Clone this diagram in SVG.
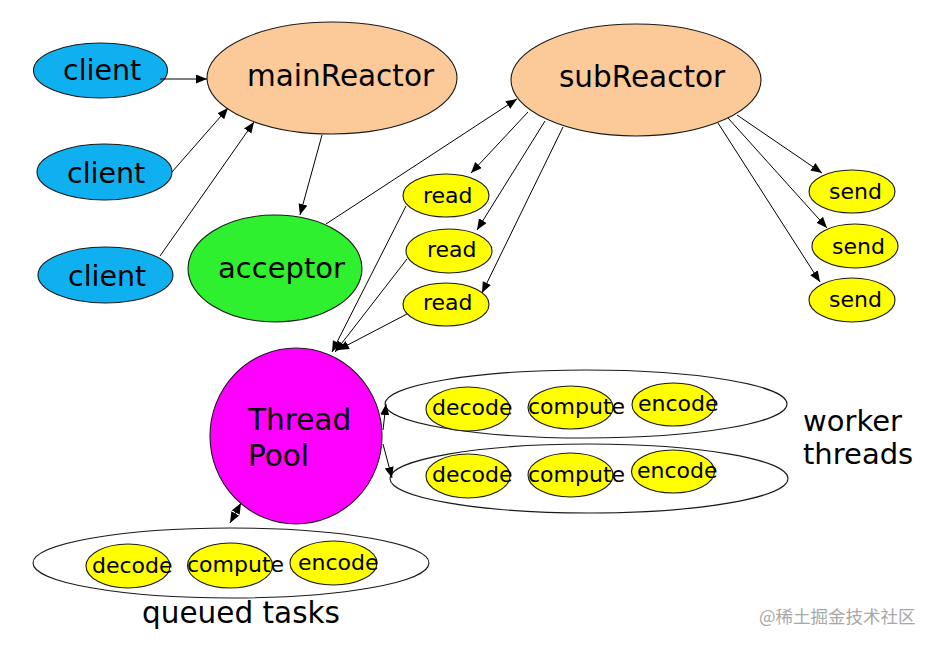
<svg xmlns="http://www.w3.org/2000/svg" width="939" height="645" viewBox="0 0 939 645">
<style>
.n{stroke:#1a1a1a;stroke-width:1.1}
.cl{fill:#0fb0f0}
.rx{fill:#fcca98}
.ac{fill:#2ef02e}
.tp{fill:#ff00ff}
.y{fill:#ffff00}
.grp{fill:#ffffff;stroke:#1a1a1a;stroke-width:1.1}
text{font-family:"DejaVu Sans","Liberation Sans",sans-serif;fill:#000}
.big{font-size:29.5px}
.sm{font-size:22px}
.c line{stroke:#000;stroke-width:1;marker-end:url(#ah)}
.wm{font-family:"Noto Sans CJK SC","DejaVu Sans",sans-serif;font-size:17.5px;fill:#a8a8a8}
</style>
<defs>
<marker id="ah" markerUnits="userSpaceOnUse" markerWidth="12" markerHeight="10" refX="11" refY="4.5" orient="auto">
<path d="M0,0 L11,4.5 L0,9 z" fill="#000"/>
</marker>
<marker id="ah2" markerUnits="userSpaceOnUse" markerWidth="12" markerHeight="10" refX="11" refY="4.5" orient="auto-start-reverse">
<path d="M0,0 L11,4.5 L0,9 z" fill="#000"/>
</marker>
</defs>
<rect width="939" height="645" fill="#fff"/>

<g id="worker1">
<ellipse class="grp" cx="586" cy="404" rx="201" ry="34"/>
<g id="w1-decode"><ellipse class="n y" cx="468" cy="409" rx="42" ry="22"/><text class="sm" x="432" y="415">decode</text></g>
<g id="w1-compute"><ellipse class="n y" cx="570.5" cy="407.5" rx="42.5" ry="21.5"/><text class="sm" x="528" y="414">compute</text></g>
<g id="w1-encode"><ellipse class="n y" cx="673.5" cy="404.5" rx="41.5" ry="21.5"/><text class="sm" x="638" y="411">encode</text></g>
</g>
<g id="worker2">
<ellipse class="grp" cx="589" cy="478.5" rx="199" ry="34.5"/>
<g id="w2-decode"><ellipse class="n y" cx="468" cy="476" rx="42" ry="22"/><text class="sm" x="432" y="482">decode</text></g>
<g id="w2-compute"><ellipse class="n y" cx="570.5" cy="475" rx="42.5" ry="22"/><text class="sm" x="528" y="482">compute</text></g>
<g id="w2-encode"><ellipse class="n y" cx="673" cy="471.5" rx="41.5" ry="21.5"/><text class="sm" x="637" y="478">encode</text></g>
</g>
<g id="queued">
<ellipse class="grp" cx="231" cy="563" rx="198" ry="35"/>
<g id="q-decode"><ellipse class="n y" cx="128" cy="566" rx="42" ry="22"/><text class="sm" x="92" y="573">decode</text></g>
<g id="q-compute"><ellipse class="n y" cx="230" cy="565.5" rx="42.5" ry="22.5"/><text class="sm" x="187" y="572">compute</text></g>
<g id="q-encode"><ellipse class="n y" cx="333.5" cy="563" rx="43.5" ry="22"/><text class="sm" x="298" y="570">encode</text></g>
</g>

<g id="client1"><ellipse class="n cl" cx="100.5" cy="70.5" rx="67" ry="27.5"/><text class="big" x="63" y="80" style="font-size:28.5px">client</text></g>
<g id="client2"><ellipse class="n cl" cx="104.5" cy="172" rx="67.5" ry="28"/><text class="big" x="67" y="183" style="font-size:28.5px">client</text></g>
<g id="client3"><ellipse class="n cl" cx="105.5" cy="275" rx="67.5" ry="28"/><text class="big" x="68" y="286" style="font-size:28.5px">client</text></g>
<g id="mainReactor"><ellipse class="n rx" cx="332" cy="78" rx="125" ry="56"/><text class="big" x="247" y="86">mainReactor</text></g>
<g id="subReactor"><ellipse class="n rx" cx="636" cy="80" rx="125" ry="56"/><text class="big" x="559" y="87">subReactor</text></g>
<g id="acceptor"><ellipse class="n ac" cx="275" cy="268.5" rx="87" ry="53.5"/><text class="big" x="218" y="278" style="font-size:29px">acceptor</text></g>
<g id="read1"><ellipse class="n y" cx="446" cy="195.5" rx="43" ry="21.5"/><text class="sm" x="423" y="203">read</text></g>
<g id="read2"><ellipse class="n y" cx="449" cy="251" rx="43" ry="22"/><text class="sm" x="427" y="257">read</text></g>
<g id="read3"><ellipse class="n y" cx="446" cy="304.5" rx="43" ry="21.5"/><text class="sm" x="423" y="310">read</text></g>
<g id="send1"><ellipse class="n y" cx="852" cy="191.5" rx="43" ry="21.5"/><text class="sm" x="829" y="199">send</text></g>
<g id="send2"><ellipse class="n y" cx="855" cy="246" rx="43" ry="22"/><text class="sm" x="832" y="254">send</text></g>
<g id="send3"><ellipse class="n y" cx="852" cy="300" rx="43" ry="22"/><text class="sm" x="829" y="307">send</text></g>
<g id="threadPool"><ellipse class="n tp" cx="296" cy="436" rx="86" ry="88"/><text class="big" x="248" y="430">Thread</text><text class="big" x="248" y="466">Pool</text></g>

<g id="connectors" class="c">
<line x1="160" y1="79" x2="207" y2="79"/>
<line x1="172" y1="172" x2="228" y2="108"/>
<line x1="160" y1="256" x2="254" y2="122"/>
<line x1="322" y1="135" x2="300" y2="215"/>
<line x1="326" y1="224" x2="517" y2="99"/>
<line x1="528" y1="112" x2="471" y2="173"/>
<line x1="545" y1="121" x2="477" y2="230"/>
<line x1="563" y1="127" x2="482" y2="293"/>
<line x1="737" y1="115" x2="822" y2="173"/>
<line x1="728" y1="118" x2="827" y2="228"/>
<line x1="718" y1="123" x2="820" y2="282"/>
<line x1="406" y1="206" x2="332" y2="352"/>
<line x1="407" y1="259" x2="335" y2="352"/>
<line x1="407" y1="314" x2="338" y2="350"/>
<line x1="383" y1="430" x2="386" y2="404"/>
<line x1="383" y1="444" x2="392" y2="478"/>
<line x1="230" y1="523" x2="241" y2="503" style="marker-start:url(#ah2);marker-end:url(#ah2)"/>
</g>

<g id="labels">
<text class="big" x="803" y="431" style="font-size:29px">worker</text>
<text class="big" x="803" y="464" style="font-size:29px">threads</text>
<text class="big" x="142" y="623">queued tasks</text>
<text class="wm" x="759" y="623">@稀土掘金技术社区</text>
</g>
</svg>
